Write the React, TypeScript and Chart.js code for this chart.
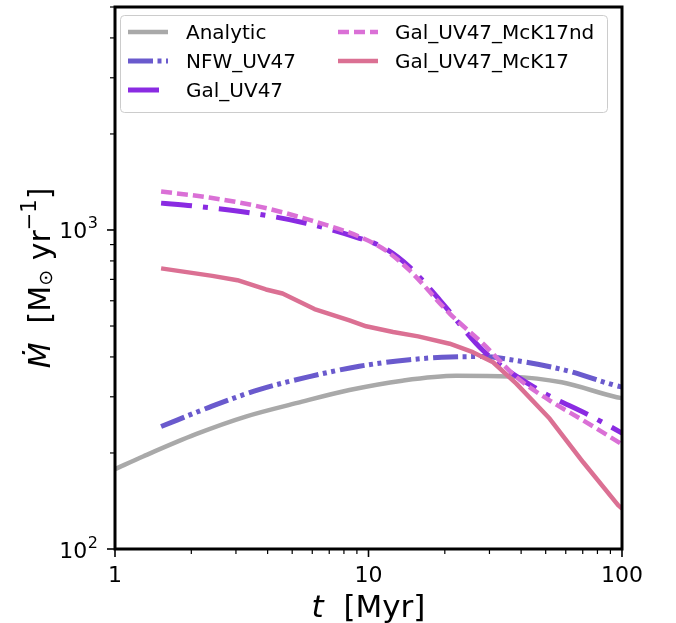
import { useEffect, useRef } from "react";
import { Chart, registerables } from "chart.js";

Chart.register(...registerables);

// Accretion rate (M_sun / yr) against time (Myr) for each model
const analyticT = [1, 1.29, 2.085, 3.28, 5.24, 8.41, 13.6, 22.2, 36.1, 57.8, 95.3, 100];
const analyticMdot = [178, 195, 229, 260, 287, 315, 337, 349, 347, 333, 299, 297];

const nfwT = [1.52, 2.35, 3.7, 5.85, 9.2, 14.5, 21, 28, 38, 60, 95, 100];
const nfwMdot = [242, 278, 316, 347, 374, 392, 400, 401, 390, 363, 325, 322];

const galT = [1.52, 2.02, 3.39, 5.67, 9.21, 11.6, 14.5, 19.1, 28.3, 46, 74.7, 100];
const galMdot = [1214, 1190, 1133, 1050, 942, 877, 767, 603, 419, 318, 262, 231];

const galNdT = [1.52, 2.35, 3.71, 5.85, 9.21, 11.6, 14.5, 20.9, 28.3, 38.3, 51.9, 70.3, 100];
const galNdMdot = [1320, 1264, 1184, 1075, 953, 866, 748, 547, 440, 346, 292, 253, 213];

const galMcKT = [1.52, 2.42, 3.04, 3.94, 4.58, 6.12, 8.41, 9.79, 12.5, 15.7, 20.9, 25.8, 31, 38.3, 51.9, 70.3, 96.7, 100];
const galMcKMdot = [758, 718, 696, 651, 632, 565, 521, 499, 479, 464, 440, 414, 385, 330, 256, 187, 137, 134];

const seriesLabels = ["Analytic", "NFW_UV47", "Gal_UV47", "Gal_UV47_McK17nd", "Gal_UV47_McK17"];
const seriesT = [analyticT, nfwT, galT, galNdT, galMcKT];
const seriesMdot = [analyticMdot, nfwMdot, galMdot, galNdMdot, galMcKMdot];

// Axis ticks
const xMajorTicks = [1, 10, 100];
const xMinorTicks = [2, 3, 4, 5, 6, 7, 8, 9, 20, 30, 40, 50, 60, 70, 80, 90];
const xTickLabels = ["1", "10", "100"];
const yMajorTicks = [100, 1000];
const yMinorTicks = [200, 300, 400, 500, 600, 700, 800, 900, 2000, 3000, 4000, 5000];
const yTickBase = "10";
const yTickExponents = ["2", "3"];

const X_MIN = 1;
const X_MAX = 100;
const Y_MIN = 100;
const Y_MAX = 5000;

// Line appearance per series
const lineStyles = [
  { color: "#a9a9a9", width: 4.5, dash: [] as number[], smooth: true },
  { color: "#6a5acd", width: 5, dash: [25, 4.5, 4, 4.5, 4, 5], smooth: true },
  { color: "#8a2be2", width: 5, dash: [31, 11, 5, 11], smooth: true },
  { color: "#da70d6", width: 4.5, dash: [11, 5], smooth: true },
  { color: "#db7093", width: 4.5, dash: [] as number[], smooth: false },
];
// drawn last = on top
const drawOrder = [4, 3, 2, 1, 0];

const FONT = '"DejaVu Sans", sans-serif';

type Piece = { text: string; size: number; shift: number; italic?: boolean };

function drawPieces(ctx: CanvasRenderingContext2D, pieces: Piece[], cx: number) {
  let total = 0;
  const widths = pieces.map((p) => {
    ctx.font = `${p.italic ? "italic " : ""}${p.size}px ${FONT}`;
    const w = ctx.measureText(p.text).width;
    total += w;
    return w;
  });
  let x = cx - total / 2;
  pieces.forEach((p, i) => {
    ctx.font = `${p.italic ? "italic " : ""}${p.size}px ${FONT}`;
    ctx.fillText(p.text, x, -p.shift);
    x += widths[i];
  });
}

const decorPlugin = {
  id: "decor",
  afterDraw(chart: any) {
    const { ctx, chartArea: a, scales } = chart;
    const xs = scales.x;
    const ys = scales.y;
    ctx.save();
    ctx.strokeStyle = "#000";
    ctx.fillStyle = "#000";
    ctx.setLineDash([]);

    const seg = (x1: number, y1: number, x2: number, y2: number, w: number) => {
      ctx.lineWidth = w;
      ctx.beginPath();
      ctx.moveTo(x1, y1);
      ctx.lineTo(x2, y2);
      ctx.stroke();
    };

    // tick marks, pointing outward
    for (const v of xMajorTicks) {
      const px = xs.getPixelForValue(v);
      seg(px, a.bottom, px, a.bottom + 8, 1.6);
    }
    for (const v of xMinorTicks) {
      const px = xs.getPixelForValue(v);
      seg(px, a.bottom, px, a.bottom + 5, 1.2);
    }
    for (const v of yMajorTicks) {
      const py = ys.getPixelForValue(v);
      seg(a.left, py, a.left - 8, py, 1.6);
    }
    for (const v of yMinorTicks) {
      const py = ys.getPixelForValue(v);
      seg(a.left, py, a.left - 5, py, 1.2);
    }

    // frame
    ctx.lineWidth = 3;
    ctx.strokeRect(a.left, a.top, a.right - a.left, a.bottom - a.top);

    // tick labels
    ctx.textBaseline = "alphabetic";
    ctx.textAlign = "center";
    ctx.font = `22px ${FONT}`;
    xMajorTicks.forEach((v, i) => {
      ctx.fillText(xTickLabels[i], xs.getPixelForValue(v), a.bottom + 33);
    });
    ctx.textAlign = "right";
    yMajorTicks.forEach((v, i) => {
      const py = ys.getPixelForValue(v);
      const labelRight = a.left - 17;
      ctx.font = `16px ${FONT}`;
      ctx.fillText(yTickExponents[i], labelRight, py - 1.5);
      const ew = ctx.measureText(yTickExponents[i]).width;
      ctx.font = `22px ${FONT}`;
      ctx.fillText(yTickBase, labelRight - ew - 0.5, py + 8.5);
    });

    // x axis title
    ctx.textAlign = "left";
    ctx.save();
    ctx.translate(0, 617);
    drawPieces(
      ctx,
      [
        { text: "t", size: 31, shift: 0, italic: true },
        { text: "  [Myr]", size: 31, shift: 0 },
      ],
      (a.left + a.right) / 2
    );
    ctx.restore();

    // y axis title
    ctx.save();
    ctx.translate(50, (a.top + a.bottom) / 2);
    ctx.rotate(-Math.PI / 2);
    drawPieces(
      ctx,
      [
        { text: "\u1E40", size: 30, shift: 0, italic: true },
        { text: "  [M", size: 30, shift: 0 },
        { text: "\u2299", size: 19, shift: -2 },
        { text: " yr", size: 30, shift: 0 },
        { text: "\u22121", size: 21, shift: 14 },
        { text: "]", size: 30, shift: 0 },
      ],
      0
    );
    ctx.restore();

    // legend
    const lx = 120.5, ly = 15.5, lw = 487, lh = 97;
    ctx.beginPath();
    ctx.roundRect(lx, ly, lw, lh, 4);
    ctx.fillStyle = "rgba(255,255,255,0.8)";
    ctx.fill();
    ctx.lineWidth = 1;
    ctx.strokeStyle = "#cccccc";
    ctx.stroke();

    const cols = [
      { hx: 128, tx: 186 },
      { hx: 338, tx: 395 },
    ];
    const rows = [32, 61, 90];
    const slots = [
      [0, 0],
      [0, 1],
      [0, 2],
      [1, 0],
      [1, 1],
    ];
    ctx.font = `20px ${FONT}`;
    ctx.textAlign = "left";
    seriesLabels.forEach((label, i) => {
      const [c, r] = slots[i];
      const st = lineStyles[i];
      const y = rows[r];
      ctx.strokeStyle = st.color;
      ctx.lineWidth = st.width;
      ctx.lineCap = "butt";
      ctx.setLineDash(st.dash);
      ctx.lineDashOffset = 0;
      ctx.beginPath();
      ctx.moveTo(cols[c].hx, y);
      ctx.lineTo(cols[c].hx + 40, y);
      ctx.stroke();
      ctx.setLineDash([]);
      ctx.fillStyle = "#000";
      ctx.fillText(label, cols[c].tx, y + 7);
    });

    ctx.restore();
  },
};

export default function App() {
  const canvasRef = useRef<HTMLCanvasElement | null>(null);

  useEffect(() => {
    if (!canvasRef.current) return;
    const datasets = seriesLabels.map((label, i) => ({
      label,
      data: seriesT[i].map((t, j) => ({ x: t, y: seriesMdot[i][j] })),
      borderColor: lineStyles[i].color,
      backgroundColor: lineStyles[i].color,
      borderWidth: lineStyles[i].width,
      borderDash: lineStyles[i].dash,
      borderCapStyle: "butt" as const,
      borderJoinStyle: "round" as const,
      pointRadius: 0,
      fill: false,
      tension: 0,
      cubicInterpolationMode: lineStyles[i].smooth ? ("monotone" as const) : ("default" as const),
      order: drawOrder[i],
      clip: 0,
    }));

    const chart = new Chart(canvasRef.current, {
      type: "line",
      data: { datasets },
      options: {
        animation: false,
        responsive: false,
        maintainAspectRatio: false,
        events: [],
        layout: { padding: { top: 7, right: 54, bottom: 0, left: 0 } },
        plugins: {
          legend: { display: false },
          tooltip: { enabled: false },
        },
        scales: {
          x: {
            type: "logarithmic",
            min: X_MIN,
            max: X_MAX,
            ticks: { display: false },
            grid: { display: false },
            border: { display: false },
            afterFit: (s: any) => {
              s.height = 74;
            },
          },
          y: {
            type: "logarithmic",
            min: Y_MIN,
            max: Y_MAX,
            ticks: { display: false },
            grid: { display: false },
            border: { display: false },
            afterFit: (s: any) => {
              s.width = 115;
            },
          },
        },
      },
      plugins: [decorPlugin],
    });
    return () => chart.destroy();
  }, []);

  return (
    <div style={{ position: "fixed", left: 0, top: 0, width: 676, height: 623, background: "#fff" }}>
      <canvas ref={canvasRef} width={676} height={623} style={{ display: "block" }} />
    </div>
  );
}
